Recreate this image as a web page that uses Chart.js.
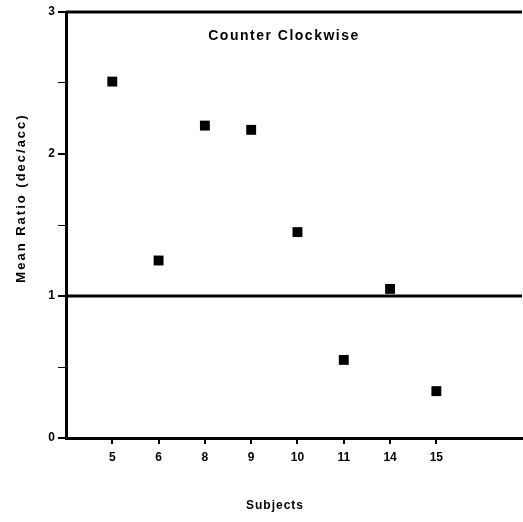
<!DOCTYPE html>
<html lang="en">
<head>
<meta charset="UTF-8">
<title>Counter Clockwise</title>
<script src="https://cdn.jsdelivr.net/npm/chart.js"></script>
<style>
  html, body { margin: 0; padding: 0; background: #fff; }
  #wrap { width: 523px; height: 522px; }
</style>
</head>
<body>
<div id="wrap"><canvas id="grafico" width="523" height="522"></canvas></div>
<script>
// data
const subjects = ['5', '6', '8', '9', '10', '11', '14', '15'];
const meanRatio = [2.51, 1.25, 2.20, 2.17, 1.45, 0.55, 1.05, 0.33];
const yTicks = [0, 1, 2, 3];
const chartTitle = 'Counter Clockwise';
const xTitle = 'Subjects';
const yTitle = 'Mean Ratio (dec/acc)';

const xMax = 9.85;
const fonte = "'Liberation Sans', Arial, sans-serif";

// pontos: posição x = índice do sujeito + 1
const pontos = subjects.map((s, i) => ({ x: i + 1, y: meanRatio[i] }));

// textos desenhados sobre o canvas
const textos = {
  id: 'textos',
  afterDraw(chart) {
    const ctx = chart.ctx;
    ctx.save();
    ctx.fillStyle = '#000';
    ctx.textAlign = 'center';
    ctx.textBaseline = 'middle';
    ctx.font = 'bold 14px ' + fonte;
    ctx.letterSpacing = '1.5px';
    ctx.fillText(chartTitle, 284, 36);
    ctx.font = 'bold 12px ' + fonte;
    ctx.letterSpacing = '1px';
    ctx.fillText(xTitle, 275, 506);
    ctx.font = 'bold 13px ' + fonte;
    ctx.letterSpacing = '2px';
    ctx.translate(21, 198);
    ctx.rotate(-Math.PI / 2);
    ctx.fillText(yTitle, 0, 0);
    ctx.restore();
  }
};

new Chart(document.getElementById('grafico').getContext('2d'), {
  type: 'scatter',
  data: {
    datasets: [
      {
        data: pontos,
        pointStyle: 'rect',
        pointRadius: 7,
        pointHoverRadius: 7,
        backgroundColor: '#000',
        borderColor: '#000',
        borderWidth: 0
      },
      {
        // linha de referência em 1
        data: [{ x: 0, y: 1 }, { x: xMax, y: 1 }],
        showLine: true,
        pointRadius: 0,
        borderColor: '#000',
        borderWidth: 3
      },
      {
        // moldura superior
        data: [{ x: 0, y: 3 }, { x: xMax, y: 3 }],
        showLine: true,
        pointRadius: 0,
        borderColor: '#000',
        borderWidth: 3,
        clip: false
      }
    ]
  },
  options: {
    responsive: false,
    animation: false,
    layout: { autoPadding: false, padding: { top: 12, right: 1, left: 0, bottom: 0 } },
    plugins: {
      legend: { display: false },
      tooltip: { enabled: false }
    },
    scales: {
      x: {
        type: 'linear',
        min: 0,
        max: xMax,
        afterBuildTicks: (scale) => {
          scale.ticks = subjects.map((s, i) => ({ value: i + 1 }));
        },
        afterFit: (scale) => {
          scale.height = 84;
          scale.paddingLeft = 0;
          scale.paddingRight = 0;
        },
        ticks: {
          color: '#000',
          font: { family: fonte, size: 12, weight: 'bold' },
          padding: 6,
          maxRotation: 0,
          callback: (v) => subjects[v - 1] || ''
        },
        grid: { drawOnChartArea: false, drawTicks: true, tickLength: 6, color: '#000', lineWidth: 2 },
        border: { display: true, color: '#000', width: 3 }
      },
      y: {
        min: 0,
        max: 3,
        afterBuildTicks: (scale) => {
          scale.ticks = [0, 0.5, 1, 1.5, 2, 2.5, 3].map(v => ({ value: v }));
        },
        afterFit: (scale) => { scale.width = 66; },
        ticks: {
          color: '#000',
          font: { family: fonte, size: 12, weight: 'bold' },
          padding: 3,
          callback: (v) => yTicks.includes(v) ? String(v) : ''
        },
        grid: {
          drawOnChartArea: false,
          drawTicks: true,
          tickLength: 8,
          color: '#000',
          lineWidth: (c) => Number.isInteger(c.tick.value) ? 2 : 1
        },
        border: { display: true, color: '#000', width: 3 }
      }
    }
  },
  plugins: [textos]
});
</script>
</body>
</html>
